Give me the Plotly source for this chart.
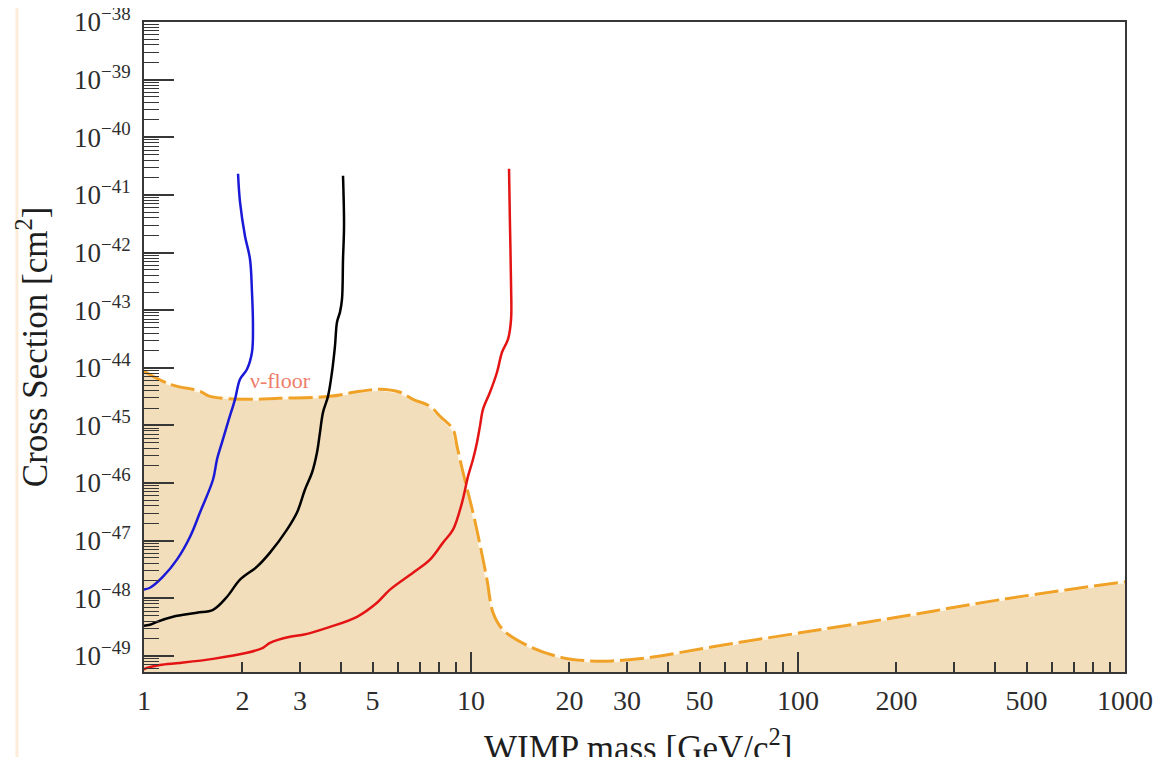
import numpy as np
import plotly.graph_objects as go

# ---------------- data ----------------
blue_mass = [0.99, 1.043, 1.143, 1.261, 1.383, 1.483, 1.626, 1.672, 1.732, 1.806, 1.898,
             1.966, 2.065, 2.139, 2.154, 2.139, 2.109, 2.036, 1.966, 1.939]
blue_sigma = [1.41e-48, 1.52e-48, 2.37e-48, 4.68e-48, 1.17e-47, 3.07e-47, 1.15e-46, 2.56e-46,
              5.06e-46, 1.13e-45, 2.83e-45, 6.31e-45, 9.42e-45, 1.86e-44, 5.27e-44, 2.06e-43,
              7.71e-43, 1.94e-42, 7.55e-42, 2.32e-41]

black_mass = [0.919, 0.887, 0.894, 0.939, 1.043, 1.096, 1.227, 1.452, 1.626, 1.794, 1.966,
              2.216, 2.428, 2.737, 2.937, 3.107, 3.265, 3.381, 3.453, 3.527, 3.653, 3.757,
              3.837, 3.892, 3.975, 4.032, 4.061, 4.090, 4.061]
black_sigma = [4.23e-49, 3.90e-49, 3.46e-49, 3.32e-49, 3.46e-49, 3.90e-49, 4.77e-49, 5.60e-49,
               6.31e-49, 1.06e-48, 2.10e-48, 3.53e-48, 6.18e-48, 1.55e-47, 3.07e-47, 7.71e-47,
               1.52e-46, 3.39e-46, 7.55e-46, 1.68e-45, 3.19e-45, 8.35e-45, 2.37e-44, 6.18e-44,
               9.23e-44, 1.55e-43, 7.71e-43, 2.89e-42, 2.14e-41]

red_mass = [0.952, 1.021, 1.119, 1.288, 1.626, 2.065, 2.311, 2.428, 2.796, 3.064, 3.706,
            4.481, 5.159, 5.653, 6.646, 7.491, 8.210, 8.810, 9.387, 9.791, 10.14, 10.43,
            10.65, 10.88, 11.43, 12.01, 12.44, 12.98, 13.26, 13.26, 13.16, 13.07]
red_sigma = [5.06e-50, 6.18e-50, 6.97e-50, 7.55e-50, 8.87e-50, 1.13e-49, 1.38e-49, 1.68e-49,
             2.14e-49, 2.32e-49, 3.19e-49, 4.77e-49, 8.35e-49, 1.41e-48, 2.77e-48, 4.68e-48,
             9.23e-48, 1.55e-47, 4.58e-47, 1.30e-46, 2.56e-46, 5.06e-46, 9.61e-46, 1.90e-45,
             3.75e-45, 8.35e-45, 1.86e-44, 3.13e-44, 6.97e-44, 2.61e-43, 2.89e-42, 2.83e-41]

floor_mass = [1.0, 1.201, 1.483, 1.591, 2.109, 2.605, 3.706, 4.577, 5.268, 6.065, 6.646,
              7.491, 8.039, 8.810, 9.063, 9.453, 10.14, 10.65, 11.19, 11.68, 12.53, 15.15,
              19.11, 23.12, 27.19, 34.53, 54.96, 101.4, 205.1, 414.7, 1000.0]
floor_sigma = [8.69e-45, 5.16e-45, 3.90e-45, 3.19e-45, 2.83e-45, 2.95e-45, 3.19e-45, 3.90e-45,
               4.23e-45, 3.75e-45, 2.83e-45, 2.14e-45, 1.44e-45, 8.51e-46, 4.31e-46, 1.52e-46,
               3.07e-47, 8.51e-48, 2.10e-48, 5.60e-49, 2.83e-49, 1.44e-49, 9.23e-50, 8.18e-50,
               8.18e-50, 9.23e-50, 1.44e-49, 2.51e-49, 4.77e-49, 9.42e-49, 1.94e-48]

x_tick_vals = [1, 2, 3, 5, 10, 20, 30, 50, 100, 200, 500, 1000]
x_tick_text = ["1", "2", "3", "5", "10", "20", "30", "50", "100", "200", "500", "1000"]
x_decades = [1, 10, 100, 1000]
y_exponents = list(range(-49, -37))

floor_label = "ν-floor"
floor_label_pos = (2.62, 6.0e-45)

# ---------------- styling ----------------
SERIF = "Liberation Serif"
AXIS_COL = "rgb(55,55,55)"
FILL_COL = "rgb(242,222,187)"
ORANGE = "rgb(240,162,40)"

fig = go.Figure()

fig.add_trace(go.Scatter(x=floor_mass, y=floor_sigma, mode="lines", fill="tozeroy",
                         fillcolor=FILL_COL, line=dict(width=0), hoverinfo="skip"))
fig.add_trace(go.Scatter(x=floor_mass, y=floor_sigma, mode="lines",
                         line=dict(color="rgba(255,250,240,0.9)", width=3), hoverinfo="skip"))
fig.add_trace(go.Scatter(x=floor_mass, y=floor_sigma, mode="lines", line_shape="spline",
                         line=dict(color=ORANGE, width=3, dash="24px,6px")))
fig.add_trace(go.Scatter(x=blue_mass, y=blue_sigma, mode="lines", line_shape="spline",
                         line=dict(color="rgb(25,25,215)", width=2.5)))
fig.add_trace(go.Scatter(x=black_mass, y=black_sigma, mode="lines", line_shape="spline",
                         line=dict(color="black", width=2.5)))
fig.add_trace(go.Scatter(x=red_mass, y=red_sigma, mode="lines", line_shape="spline",
                         line=dict(color="rgb(228,20,20)", width=2.5)))
# helper trace for the overlay axis carrying the long decade ticks
fig.add_trace(go.Scatter(x=[x_decades[0]], y=[floor_sigma[0]], xaxis="x2", mode="markers",
                         marker=dict(opacity=0), hoverinfo="skip"))

xrange = [np.log10(x_tick_vals[0]), np.log10(x_tick_vals[-1])]
yrange = [-49.28, -38.0]

# the page body adds an 8 px offset, so the figure is 8 px smaller than the window
fig.update_layout(
    width=1162, height=749,
    margin=dict(l=136, r=45, t=14, b=85, autoexpand=False),
    paper_bgcolor="white", plot_bgcolor="white",
    showlegend=False,
    xaxis=dict(type="log", range=xrange, tickmode="array", tickvals=x_tick_vals,
               ticktext=x_tick_text, ticks="inside", ticklen=10, tickwidth=1.5,
               tickcolor=AXIS_COL, showgrid=False, zeroline=False, automargin=False,
               showline=True, linecolor=AXIS_COL, linewidth=2, mirror=True,
               ticklabelstandoff=2, ticklabeloverflow="allow",
               tickfont=dict(family=SERIF, size=28, color="rgb(45,45,45)"),
               minor=dict(ticks="inside", ticklen=10, tickwidth=1.5, tickcolor=AXIS_COL,
                          dtick="D1", showgrid=False)),
    xaxis2=dict(type="log", range=xrange, overlaying="x", anchor="y", side="bottom",
                tickmode="array", tickvals=x_decades, ticks="inside", ticklen=20,
                tickwidth=1.5, tickcolor=AXIS_COL, showticklabels=False, automargin=False,
                showgrid=False, zeroline=False, showline=False),
    yaxis=dict(type="log", range=yrange, tickmode="array",
               tickvals=[10.0 ** e for e in y_exponents],
               ticktext=[f"10<sup>\u2212{-e}</sup>" for e in y_exponents],
               ticks="inside", ticklen=30, tickwidth=1.5, tickcolor=AXIS_COL,
               showgrid=False, zeroline=False, showline=True, linecolor=AXIS_COL,
               linewidth=2, mirror=True, ticklabelstandoff=6, automargin=False,
               ticklabeloverflow="allow",
               tickfont=dict(family=SERIF, size=27, color="rgb(45,45,45)"),
               minor=dict(ticks="inside", ticklen=15, tickwidth=1.2, tickcolor=AXIS_COL,
                          dtick="D1", showgrid=False)),
    annotations=[
        dict(text="Cross Section [cm<sup>2</sup>]", xref="paper", yref="paper",
             x=-0.114, y=0.50, textangle=-90, showarrow=False, xanchor="center",
             yanchor="middle", font=dict(family=SERIF, size=35, color="rgb(30,30,30)")),
        dict(text="WIMP mass [GeV/c<sup>2</sup>]", xref="paper", yref="paper",
             x=0.504, y=-0.076, showarrow=False, xanchor="center", yanchor="top",
             font=dict(family=SERIF, size=35, color="rgb(30,30,30)")),
        dict(text=floor_label, x=np.log10(floor_label_pos[0]), y=np.log10(floor_label_pos[1]),
             xref="x", yref="y", showarrow=False, xanchor="center", yanchor="middle",
             font=dict(family=SERIF, size=22, color="rgb(238,125,105)")),
    ],
    shapes=[dict(type="line", xref="paper", yref="paper", x0=-0.1295, x1=-0.1295,
                 y0=-0.14, y1=1.04, line=dict(color="rgb(253,236,216)", width=3))],
)

fig.write_html("out.html")
